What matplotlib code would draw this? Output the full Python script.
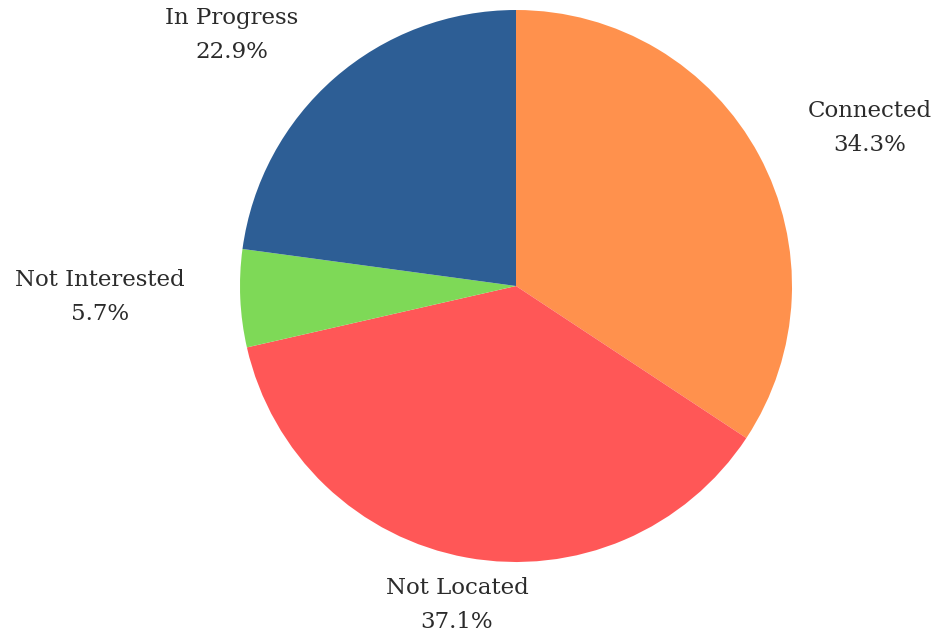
import matplotlib
matplotlib.use("Agg")
import matplotlib.pyplot as plt

categories = ["Connected", "Not Located", "Not Interested", "In Progress"]
counts = [12, 13, 2, 8]
colors = ["#FF914D", "#FF5757", "#7ED957", "#2D5E95"]

# label anchor positions (pixel-like data coords, y up)
label_pos = [(870, 510), (457, 33), (100, 341), (232, 603)]

fig = plt.figure(figsize=(9.43, 6.38), dpi=100)
ax = fig.add_axes([0, 0, 1, 1])

ax.pie(counts, colors=colors, startangle=90, counterclock=False,
       center=(516, 352), radius=276, frame=True,
       wedgeprops=dict(linewidth=0))
ax.set_xlim(0, 943)
ax.set_ylim(0, 638)
ax.set_aspect("equal")
ax.axis("off")

total = sum(counts)
for cat, c, (x, y) in zip(categories, counts, label_pos):
    ax.text(x, y, f"{cat}\n{100*c/total:.1f}%", ha="center", va="center",
            fontsize=16.5, family="DejaVu Serif", color="#2b2b2b", linespacing=1.7)

fig.savefig("out.png", dpi=100)
